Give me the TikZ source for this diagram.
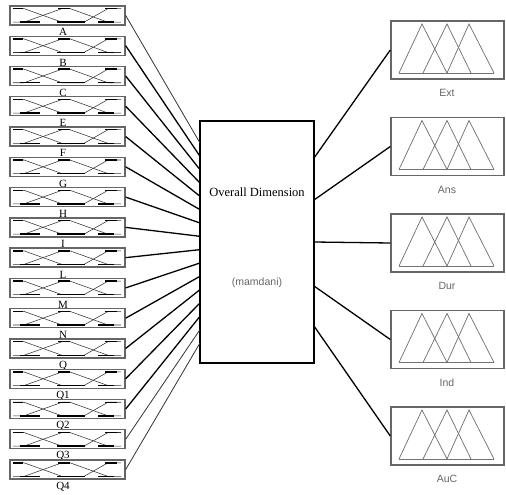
\documentclass[tikz,border=0pt]{standalone}
\usepackage{fontspec}
\setmainfont{Liberation Serif}
\newfontfamily\labsans{Liberation Sans}
\begin{document}
\begin{tikzpicture}[x=1pt,y=-1pt,
  inbox/.style={draw=black!60, line width=1.3pt, minimum width=115pt, minimum height=19pt, inner sep=0pt},
  outbox/.style={draw=black!60, line width=1.4pt, minimum width=113pt, minimum height=58pt, inner sep=0pt},
  mainbox/.style={draw=black, line width=1.3pt, minimum width=114pt, minimum height=242pt, inner sep=0pt},
  mf/.style={draw=black!80, line width=0.55pt},
  mfflat/.style={draw=black, line width=1.4pt},
  tri/.style={draw=black!55, line width=0.75pt},
  inlab/.style={font=\fontsize{11}{11}\selectfont, inner sep=0pt},
  outlab/.style={font=\labsans\fontsize{10.5}{10.5}\selectfont, text=black!60, inner sep=0pt},
  conn/.style={draw=black, line width=1.3pt},
  thinconn/.style={draw=black!80, line width=0.8pt}]
\useasboundingbox (0,0) rectangle (506,495);

% central box
\node[mainbox] (C) at (257,242) {};
\node[font=\fontsize{12.5}{12.5}\selectfont, inner sep=0pt] (ctitle) at (257,192) {Overall Dimension};
\node[outlab] (cmeth) at (257,283) {(mamdani)};

% left input boxes
\foreach \lab [count=\i from 0] in {A,B,C,E,F,G,H,I,L,M,N,Q,Q1,Q2,Q3,Q4} {
  \pgfmathsetmacro\c{15.4+30.28*\i}
  \pgfmathsetmacro\t{\c-6.8}
  \pgfmathsetmacro\b{\c+6.8}
  \pgfmathsetmacro\p{143+13.33*\i}
  \node[inbox] (L\i) at (67.5,\c) {};
  \draw[mf] (13,\t) -- (24,\t) -- (62,\b) -- (84,\b);
  \draw[mf] (13,\b) -- (24,\b) -- (62,\t) -- (70,\t) -- (108,\b) -- (121,\b);
  \draw[mf] (84,\b) -- (108,\t) -- (121,\t);
  \draw[mfflat] (13,\t) -- (23,\t);
  \draw[mfflat] (20,\b) -- (40,\b);
  \draw[mfflat] (58,\t) -- (70,\t);
  \draw[mfflat] (57,\b) -- (85,\b);
  \draw[mfflat] (105,\t) -- (117,\t);
  \draw[mfflat] (98,\b) -- (114,\b);
  \node[inlab] (LL\i) at (63,{\c+16.8}) {\lab};
  \coordinate (P\i) at (200,\p);
}
\foreach \i in {0,15,14} {\draw[thinconn] (L\i.east) -- (P\i);}
\foreach \i in {1,...,13} {\draw[conn] (L\i.east) -- (P\i);}

% right output boxes
\foreach \lab [count=\j from 0] in {Ext,Ans,Dur,Ind,AuC} {
  \pgfmathsetmacro\c{50+96.5*\j}
  \pgfmathsetmacro\tp{\c-26}
  \pgfmathsetmacro\bs{\c+23}
  \node[outbox] (R\j) at (447.5,\c) {};
  \draw[tri] (399,\bs) -- (422,\tp) -- (447,\bs);
  \draw[tri] (423,\bs) -- (447,\tp) -- (471,\bs);
  \draw[tri] (447,\bs) -- (469,\tp) -- (494,\bs);
  \draw[tri] (399,\bs) -- (494,\bs);
  \node[outlab] (RL\j) at (447,{\c+43}) {\lab};
}
\coordinate (S0) at (314,158);
\coordinate (S1) at (314,200);
\coordinate (S2) at (314,242);
\coordinate (S3) at (314,286);
\coordinate (S4) at (314,326);
\foreach \j in {0,...,4} {\draw[conn] (S\j) -- (R\j.west);}
\end{tikzpicture}
\end{document}
